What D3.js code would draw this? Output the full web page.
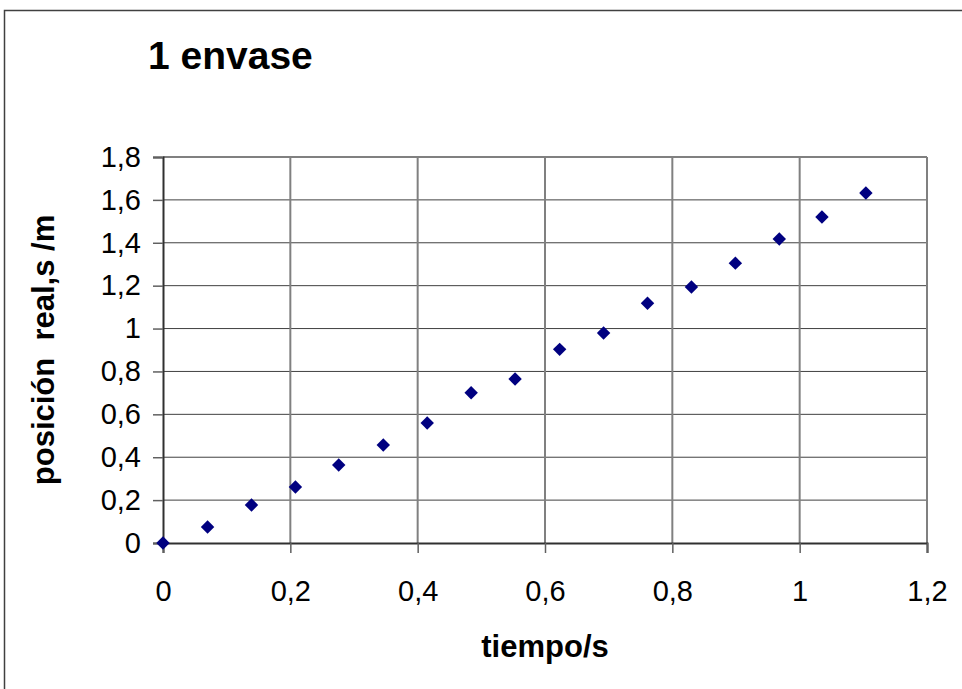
<!DOCTYPE html>
<html>
<head>
<meta charset="utf-8">
<script src="https://cdn.jsdelivr.net/npm/d3@7"></script>
<style>
  body { margin: 0; background: #fff; }
  text { font-family: "Liberation Sans", Arial, sans-serif; }
</style>
</head>
<body>
<div id="chart"></div>
<script>
// data
const tiempo = [0, 0.070, 0.139, 0.208, 0.276, 0.346, 0.415, 0.484, 0.553, 0.623, 0.692, 0.761, 0.830, 0.899, 0.968, 1.035, 1.104];
const posicion = [0, 0.075, 0.177, 0.261, 0.364, 0.457, 0.560, 0.701, 0.765, 0.903, 0.979, 1.118, 1.194, 1.305, 1.418, 1.520, 1.632];
const xTicks = [0, 0.2, 0.4, 0.6, 0.8, 1, 1.2];
const yTicks = [0, 0.2, 0.4, 0.6, 0.8, 1, 1.2, 1.4, 1.6, 1.8];

const width = 962, height = 689;
const margin = { top: 157, right: 35, bottom: 146, left: 163 };

const svg = d3.select("#chart")
  .append("svg")
  .attr("width", width)
  .attr("height", height)

// outer chart frame (cut off right and bottom)
svg.append("rect")
  .attr("x", 4.5).attr("y", 10.5)
  .attr("width", width + 20).attr("height", height + 20)
  .attr("fill", "none")
  .attr("stroke", "#404040")
  .attr("stroke-width", 1.5)

const xScale = d3.scaleLinear()
  .domain([0, 1.2])
  .range([margin.left, width - margin.right]);

const yScale = d3.scaleLinear()
  .domain([0, 1.8])
  .range([height - margin.bottom, margin.top]);

const fmt = d => String(d).replace(".", ",");

// horizontal grid
svg.append("g")
  .selectAll("line")
  .data(yTicks.slice(1, -1))
  .join("line")
  .attr("x1", xScale(0)).attr("x2", xScale(1.2))
  .attr("y1", d => yScale(d)).attr("y2", d => yScale(d))
  .attr("stroke", "#404040")
  .attr("stroke-width", 1)

// vertical grid
svg.append("g")
  .selectAll("line")
  .data(xTicks.slice(1, -1))
  .join("line")
  .attr("x1", d => xScale(d)).attr("x2", d => xScale(d))
  .attr("y1", yScale(0)).attr("y2", yScale(1.8))
  .attr("stroke", "#808080")
  .attr("stroke-width", 2)

// top and right borders of plot area
svg.append("line")
  .attr("x1", xScale(0)).attr("x2", xScale(1.2))
  .attr("y1", yScale(1.8)).attr("y2", yScale(1.8))
  .attr("stroke", "#808080").attr("stroke-width", 2)
svg.append("line")
  .attr("x1", xScale(1.2)).attr("x2", xScale(1.2))
  .attr("y1", yScale(0)).attr("y2", yScale(1.8))
  .attr("stroke", "#808080").attr("stroke-width", 2)

// axes
const xAxis = svg.append("g")
  .attr("transform", `translate(0,${yScale(0)})`)
  .call(d3.axisBottom(xScale).tickValues(xTicks).tickFormat(fmt).tickSizeOuter(0).tickSize(10).tickPadding(27))
xAxis.select(".domain").attr("stroke", "#303030").attr("stroke-width", 2)
xAxis.selectAll(".tick line").attr("stroke", "#606060").attr("stroke-width", 1.5)
xAxis.selectAll("text").attr("font-size", 29).attr("fill", "#000")
  .style("font-family", "'Liberation Sans', Arial, sans-serif")

const yAxis = svg.append("g")
  .attr("transform", `translate(${xScale(0)},0)`)
  .call(d3.axisLeft(yScale).tickValues(yTicks).tickFormat(fmt).tickSizeOuter(0).tickSize(10).tickPadding(12))
yAxis.select(".domain").attr("stroke", "#303030").attr("stroke-width", 2)
yAxis.selectAll(".tick line").attr("stroke", "#606060").attr("stroke-width", 1.5)
yAxis.selectAll("text").attr("font-size", 29).attr("fill", "#000")
  .style("font-family", "'Liberation Sans', Arial, sans-serif")

// points (diamonds)
svg.append("g")
  .selectAll("path")
  .data(tiempo.map((t, i) => ({ t: t, p: posicion[i] })))
  .join("path")
  .attr("d", d3.symbol().type(d3.symbolDiamond2).size(115))
  .attr("transform", d => `translate(${xScale(d.t)},${yScale(d.p)})`)
  .attr("fill", "#000080")

// title
svg.append("text")
  .attr("x", 148).attr("y", 69)
  .attr("font-size", 39).attr("font-weight", "bold")
  .text("1 envase")

// axis titles
svg.append("text")
  .attr("x", (xScale(0) + xScale(1.2)) / 2).attr("y", 657)
  .attr("text-anchor", "middle")
  .attr("font-size", 31).attr("font-weight", "bold")
  .text("tiempo/s")

svg.append("text")
  .attr("transform", `translate(54,${(yScale(0) + yScale(1.8)) / 2}) rotate(-90)`)
  .attr("text-anchor", "middle")
  .attr("font-size", 31).attr("font-weight", "bold")
  .style("white-space", "pre")
  .text("posición  real,s /m")
</script>
</body>
</html>
